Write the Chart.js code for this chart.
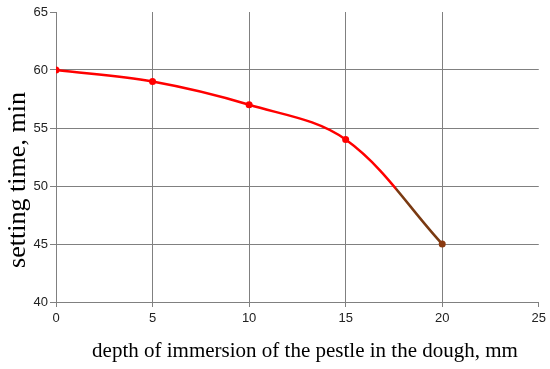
<!DOCTYPE html>
<html>
<head>
<meta charset="utf-8">
<script src="https://cdn.jsdelivr.net/npm/chart.js@4/dist/chart.umd.min.js"></script>
<style>
html,body{margin:0;padding:0;background:#fff;}
#wrap{width:550px;height:369px;position:relative;}
</style>
</head>
<body>
<div id="wrap"><canvas id="c" width="550" height="369"></canvas></div>
<script>
const depth = [0, 5, 10, 15, 20];
const settingTime = [60, 59, 57, 54, 45];
const xTicks = [0, 5, 10, 15, 20, 25];
const yTicks = [40, 45, 50, 55, 60, 65];
const xTitle = 'depth of immersion of the pestle in the dough, mm';
const yTitle = 'setting time, min';

function fitFont(c, text, target) {
  c.font = '20px "Liberation Serif", "Times New Roman", serif';
  const w = c.measureText(text).width;
  return 20 * target / w;
}

const titlePlugin = {
  id: 'axisTitles',
  afterDraw(chart) {
    const c = chart.ctx, a = chart.chartArea;
    c.save();
    // trim anything drawn right of the plot area above the axis
    c.fillStyle = '#fff';
    c.fillRect(a.right + 1, 0, chart.width - a.right, a.bottom - 1);
    c.fillStyle = '#000';
    c.textAlign = 'center';
    c.textBaseline = 'alphabetic';
    const fx = fitFont(c, xTitle, 426);
    c.font = fx.toFixed(2) + 'px "Liberation Serif", "Times New Roman", serif';
    c.fillText(xTitle, 305, 357);
    const fy = fitFont(c, yTitle, 176);
    c.translate(25, 180);
    c.rotate(-Math.PI / 2);
    c.font = fy.toFixed(2) + 'px "Liberation Serif", "Times New Roman", serif';
    c.fillText(yTitle, 0, 0);
    c.restore();
  }
};

new Chart(document.getElementById('c'), {
  type: 'line',
  data: {
    datasets: [{
      data: depth.map((d, i) => ({x: d, y: settingTime[i]})),
      borderColor: (ctx) => {
        const chart = ctx.chart;
        if (!chart.chartArea) return '#ff0000';
        const x0 = chart.scales.x.getPixelForValue(17.6);
        const g = chart.ctx.createLinearGradient(x0 - 1, 0, x0 + 1, 0);
        g.addColorStop(0, '#ff0000');
        g.addColorStop(1, '#7a3a12');
        return g;
      },
      borderWidth: 2.5,
      tension: 0.35,
      pointRadius: 3.5,
      pointBorderWidth: 0,
      pointBackgroundColor: settingTime.map((v, i) => i === settingTime.length - 1 ? '#8a3a10' : '#ff0000'),
      pointHoverRadius: 3.5
    }]
  },
  options: {
    responsive: false,
    animation: false,
    events: [],
    layout: {padding: {top: 12, right: 9, left: 0, bottom: 0}},
    plugins: {legend: {display: false}, tooltip: {enabled: false}},
    scales: {
      x: {
        type: 'linear',
        min: 0, max: 25,
        afterBuildTicks: (s) => { s.ticks = xTicks.map(v => ({value: v})); },
        afterFit: (s) => { s.height = 67; },
        border: {color: '#808080', width: 1},
        grid: {
          color: (ctx) => (ctx.tick && ctx.tick.value === 25) ? 'rgba(0,0,0,0)' : '#808080',
          tickColor: '#808080',
          tickLength: 5,
          lineWidth: 1
        },
        ticks: {color: '#222', font: {family: '"Liberation Sans", Arial, sans-serif', size: 13}, padding: 4, maxRotation: 0}
      },
      y: {
        type: 'linear',
        min: 40, max: 65,
        afterBuildTicks: (s) => { s.ticks = yTicks.map(v => ({value: v})); },
        afterFit: (s) => { s.width = 56; },
        border: {color: '#808080', width: 1},
        grid: {
          color: (ctx) => (ctx.tick && ctx.tick.value === 65) ? 'rgba(0,0,0,0)' : '#808080',
          tickColor: '#808080',
          tickLength: 6,
          lineWidth: 1
        },
        ticks: {color: '#222', font: {family: '"Liberation Sans", Arial, sans-serif', size: 13}, padding: 2}
      }
    }
  },
  plugins: [titlePlugin]
});
</script>
</body>
</html>
